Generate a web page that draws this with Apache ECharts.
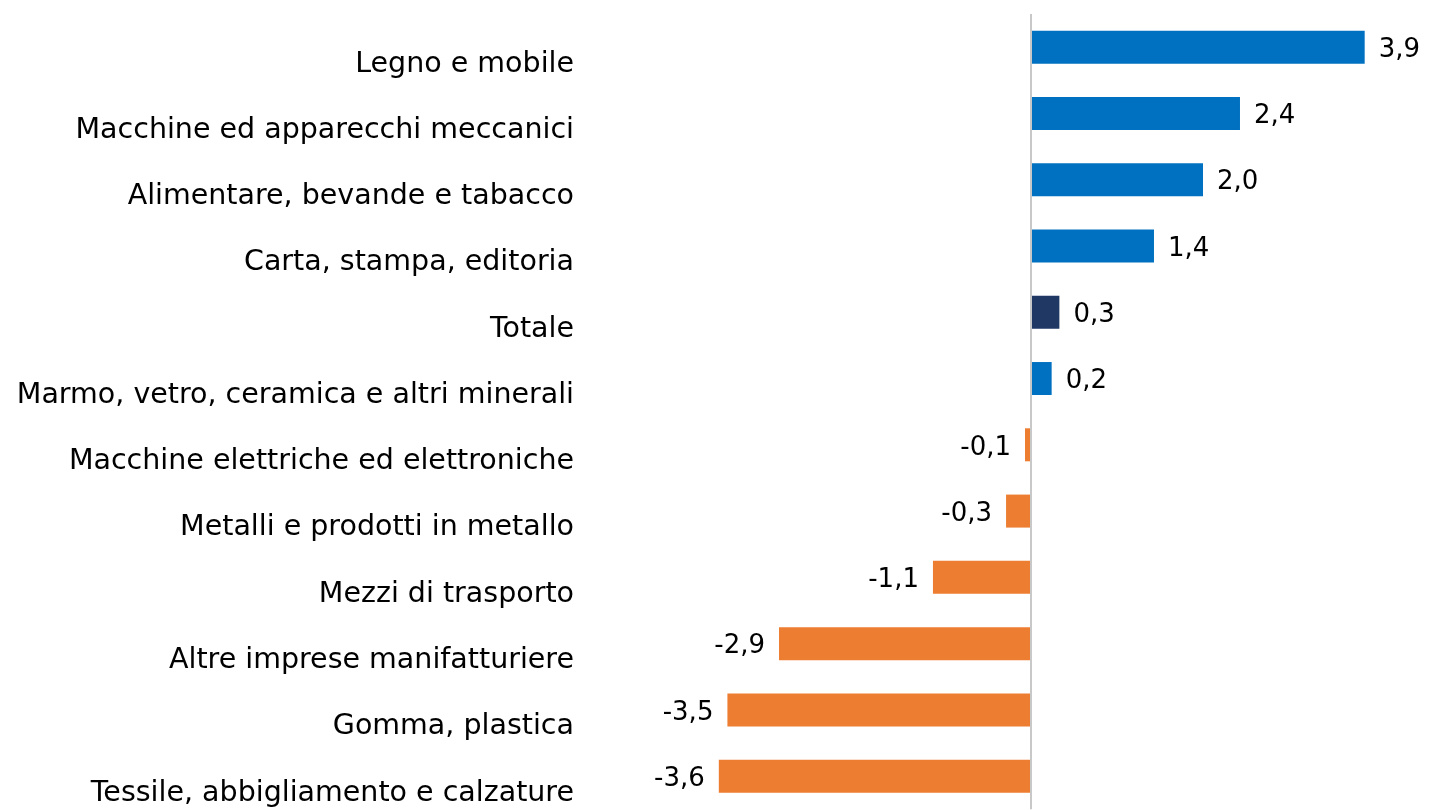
<!DOCTYPE html>
<html lang="it">
<head>
    <meta charset="UTF-8">
    <title>Variazioni per settore</title>
    <script src="https://cdn.jsdelivr.net/npm/echarts@6/dist/echarts.min.js"></script>
</head>
<body style="margin:0; width:1447px; height:810px; background:#fff">
<div id="main" style="width:1447px; height:810px"></div>
<script>
    // settori, dall'alto verso il basso
    var categories = [
        'Legno e mobile',
        'Macchine ed apparecchi meccanici',
        'Alimentare, bevande e tabacco',
        'Carta, stampa, editoria',
        'Totale',
        'Marmo, vetro, ceramica e altri minerali',
        'Macchine elettriche ed elettroniche',
        'Metalli e prodotti in metallo',
        'Mezzi di trasporto',
        'Altre imprese manifatturiere',
        'Gomma, plastica',
        'Tessile, abbigliamento e calzature'
    ];
    var values = [3.88, 2.43, 2.0, 1.43, 0.33, 0.24, -0.07, -0.29, -1.14, -2.93, -3.53, -3.63];
    var totalLabel = 'Totale';

    var BLUE = '#0070C0', NAVY = '#1F3864', ORANGE = '#ED7D31';
    var FONT = 'DejaVu Sans';

    var seriesData = values.map(function (v, i) {
        var color = categories[i] === totalLabel ? NAVY : (v < 0 ? ORANGE : BLUE);
        return {
            value: v,
            itemStyle: { color: color },
            label: { position: v < 0 ? 'left' : 'right' }
        };
    });

    var myChart = echarts.init(document.getElementById('main'));
    myChart.setOption({
        animation: false,
        grid: { left: 687, right: 29, top: 14, height: 800 },
        xAxis: {
            type: 'value',
            min: -4,
            max: 4.5,
            show: false
        },
        yAxis: {
            type: 'category',
            data: categories,
            inverse: true,
            axisLine: { show: false },
            axisTick: { show: false },
            axisLabel: {
                margin: 113,
                color: '#000',
                fontFamily: FONT,
                fontSize: 28.5,
                lineHeight: 34,
                // le etichette stanno un po' sotto il centro della barra
                verticalAlign: 'top'
            }
        },
        series: [{
            type: 'bar',
            barWidth: 33,
            data: seriesData,
            label: {
                show: true,
                distance: 14,
                offset: [0, 3],
                color: '#000',
                fontFamily: FONT,
                fontSize: 26,
                formatter: function (p) {
                    return p.value.toFixed(1).replace('.', ',');
                }
            },
            markLine: {
                silent: true,
                symbol: 'none',
                label: { show: false },
                lineStyle: { color: '#C8C8C8', width: 2, type: 'solid' },
                data: [{ xAxis: 0 }]
            }
        }]
    });
</script>
</body>
</html>
